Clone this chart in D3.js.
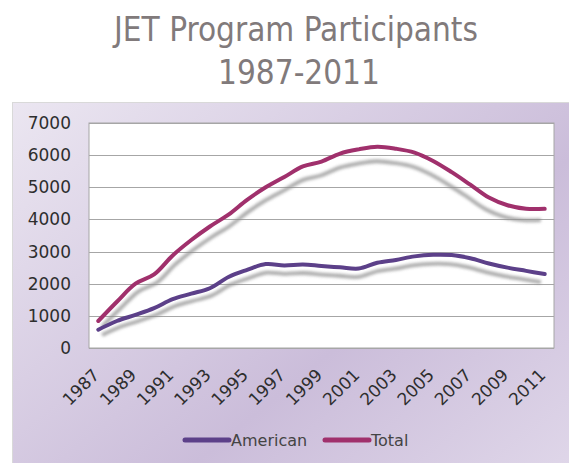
<!DOCTYPE html>
<html>
<head>
    <meta charset="utf-8">
    <title>JET Program Participants</title>
    <script src="https://d3js.org/d3.v7.min.js"></script>
    <style>
        body { margin: 0; background: #fff; }
        text { font-family: "DejaVu Sans", Verdana, sans-serif; }
        .title { font-family: "DejaVu Sans Condensed", "DejaVu Sans", sans-serif; font-size: 33px; fill: #817a7b; }
        .tick-label { font-size: 17px; fill: #2e2e2e; }
        .legend-label { font-size: 16px; fill: #444; }
    </style>
</head>
<body>
    <svg width="569" height="463"></svg>
    <script>
        // Data
        var years = ["1987", "1988", "1989", "1990", "1991", "1992", "1993", "1994", "1995", "1996",
            "1997", "1998", "1999", "2000", "2001", "2002", "2003", "2004", "2005", "2006",
            "2007", "2008", "2009", "2010", "2011"];
        var american = [570, 840, 1030, 1240, 1520, 1690, 1860, 2210, 2430, 2610,
            2570, 2600, 2550, 2510, 2470, 2650, 2740, 2850, 2900, 2890,
            2790, 2630, 2500, 2400, 2300];
        var total = [840, 1440, 2000, 2290, 2880, 3360, 3780, 4150, 4610, 5000,
            5320, 5650, 5800, 6050, 6180, 6260, 6200, 6080, 5820, 5470,
            5080, 4680, 4440, 4330, 4330];
        var yTicks = [0, 1000, 2000, 3000, 4000, 5000, 6000, 7000];
        var xLabels = years.filter(function (d, i) { return i % 2 === 0; });
        var seriesNames = ["American", "Total"];
        var colors = ["#5c4089", "#a0306c"];

        var width = 569, height = 463;
        var plot = { left: 89, right: 554, top: 123, bottom: 348 };

        var svg = d3.select("svg");
        var defs = svg.append("defs");

        // Background gradient for the chart frame
        var grad = defs.append("linearGradient")
            .attr("id", "bg").attr("x1", 0).attr("y1", 0).attr("x2", 1).attr("y2", 1);
        grad.append("stop").attr("offset", "0%").attr("stop-color", "#ebe6f1");
        grad.append("stop").attr("offset", "55%").attr("stop-color", "#cbbdda");
        grad.append("stop").attr("offset", "100%").attr("stop-color", "#e6dfee");

        var blur = defs.append("filter").attr("id", "blur")
            .attr("x", "-10%").attr("y", "-10%").attr("width", "120%").attr("height", "120%");
        blur.append("feGaussianBlur").attr("stdDeviation", 1.6);

        // Title
        svg.append("text").attr("class", "title")
            .attr("x", 296).attr("y", 41).attr("text-anchor", "middle")
            .text("JET Program Participants");
        svg.append("text").attr("class", "title")
            .attr("x", 299).attr("y", 84).attr("text-anchor", "middle")
            .text("1987-2011");

        // Chart frame
        svg.append("rect")
            .attr("x", 12.5).attr("y", 102.5)
            .attr("width", width).attr("height", height)
            .attr("fill", "url(#bg)")
            .attr("stroke", "#d9d9d9");

        // Scales
        var x = d3.scaleBand()
            .domain(years)
            .range([plot.left, plot.right]);
        var y = d3.scaleLinear()
            .domain([0, 7000])
            .range([plot.bottom, plot.top]);
        var cx = function (d) { return x(d) + x.bandwidth() / 2; };

        // Plot area
        svg.append("rect")
            .attr("x", plot.left).attr("y", plot.top)
            .attr("width", plot.right - plot.left).attr("height", plot.bottom - plot.top)
            .attr("fill", "#fff")
            .attr("stroke", "#a6a6a6");

        // Gridlines
        svg.selectAll(".grid")
            .data(yTicks)
            .enter().append("line")
            .attr("class", "grid")
            .attr("x1", plot.left).attr("x2", plot.right)
            .attr("y1", function (d) { return Math.round(y(d)) + 0.5; })
            .attr("y2", function (d) { return Math.round(y(d)) + 0.5; })
            .attr("stroke", "#a6a6a6");

        // Y axis labels
        var yAxis = d3.axisLeft(y).tickValues(yTicks).tickFormat(d3.format("d")).tickSize(0).tickPadding(18);
        var gy = svg.append("g")
            .attr("transform", "translate(" + plot.left + ",0)")
            .call(yAxis);
        gy.select(".domain").remove();
        gy.selectAll("text").attr("class", "tick-label").attr("font-family", null).attr("font-size", null);

        // X axis labels (every other year, rotated)
        var xAxis = d3.axisBottom(x).tickValues(xLabels).tickSize(0);
        var gx = svg.append("g")
            .attr("transform", "translate(0," + plot.bottom + ")")
            .call(xAxis);
        gx.select(".domain").remove();
        gx.selectAll("text")
            .attr("class", "tick-label")
            .attr("font-family", null).attr("font-size", null)
            .attr("text-anchor", "end")
            .attr("y", 0).attr("dy", 0)
            .attr("transform", "translate(2,28) rotate(-45)");

        // Lines
        var line = d3.line()
            .x(function (d) { return cx(d.year); })
            .y(function (d) { return y(d.value); })
            .curve(d3.curveCatmullRom);

        var series = [american, total].map(function (vals, k) {
            return {
                name: seriesNames[k], color: colors[k],
                values: vals.map(function (v, i) { return { year: years[i], value: v }; })
            };
        });

        // Perspective-like drop shadow
        var sx0 = (cx(years[0]) + cx(years[years.length - 1])) / 2;
        var sy0 = plot.bottom + 88;
        var shadowT = "translate(" + sx0 + "," + sy0 + ") scale(0.983,0.95) translate(" + (-sx0) + "," + (-sy0) + ")";

        svg.selectAll(".shadow")
            .data(series)
            .enter().append("path")
            .attr("class", "shadow")
            .attr("d", function (d) { return line(d.values); })
            .attr("transform", shadowT)
            .attr("fill", "none")
            .attr("stroke", "#8f8f8f")
            .attr("stroke-width", 4)
            .attr("opacity", 0.75)
            .attr("filter", "url(#blur)");

        svg.selectAll(".series")
            .data(series)
            .enter().append("path")
            .attr("class", "series")
            .attr("d", function (d) { return line(d.values); })
            .attr("fill", "none")
            .attr("stroke", function (d) { return d.color; })
            .attr("stroke-width", 4)
            .attr("stroke-linecap", "round")
            .attr("stroke-linejoin", "round");

        // Legend
        var legendX = [185, 325];
        var leg = svg.selectAll(".legend")
            .data(series)
            .enter().append("g")
            .attr("class", "legend")
            .attr("transform", function (d, i) { return "translate(" + legendX[i] + ",440)"; });
        leg.append("line")
            .attr("x1", 0).attr("x2", 44)
            .attr("stroke", function (d) { return d.color; })
            .attr("stroke-width", 5)
            .attr("stroke-linecap", "round");
        leg.append("text")
            .attr("class", "legend-label")
            .attr("x", 46).attr("dy", "0.35em")
            .text(function (d) { return d.name; });
    </script>
</body>
</html>
